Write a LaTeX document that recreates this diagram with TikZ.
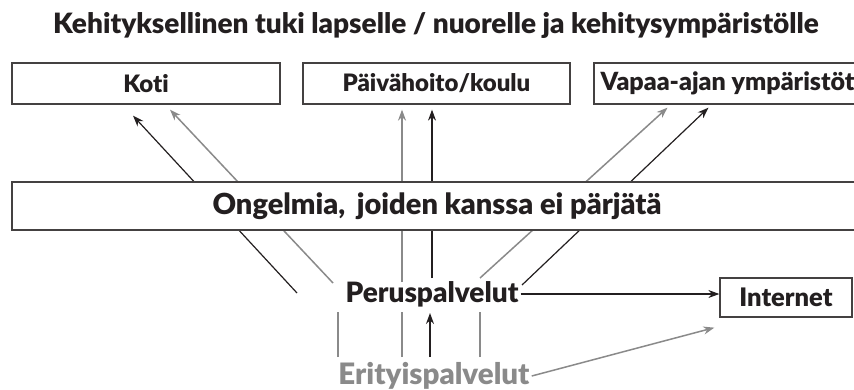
\documentclass[tikz,border=0pt]{standalone}
\usepackage{fontspec}
\setmainfont{Lato}[BoldFont={Lato Black}, Ligatures=NoCommon]
\usetikzlibrary{arrows.meta}
\usetikzlibrary{calc}
\definecolor{muste}{RGB}{35,31,32}
\definecolor{harmaa}{RGB}{138,138,138}
\colorlet{kehys}{muste!85}

\begin{document}
\begin{tikzpicture}[x=1pt, y=-1pt,
    laatikko/.style={draw=kehys, line width=1.3pt, fill=white, text=muste, inner sep=0pt,
        minimum height=41pt, font=\bfseries\fontsize{24}{28}\selectfont},
    teksti/.style={text=muste, inner sep=2pt, font=\bfseries\fontsize{28}{32}\selectfont},
    musta/.style={muste, line width=1.2pt, -{Stealth[length=11pt,width=8pt]}},
    harmaa viiva/.style={harmaa, line width=1.5pt},
    harmaa nuoli/.style={harmaa viiva, -{Stealth[length=11pt,width=8pt]}}]

    \useasboundingbox (0,0) rectangle (854,389);

    \node[teksti] (otsikko) at (436,25) {Kehityksellinen tuki lapselle / nuorelle ja kehitysympäristölle};

    \node[laatikko, minimum width=268pt] (koti) at (146,83.5) {Koti};
    \node[laatikko, minimum width=267pt] (paivahoito) at (436.5,83.5) {Päivähoito/koulu};
    \node[laatikko, minimum width=267pt, font=\bfseries\fontsize{25}{28}\selectfont] (vapaa) at (727.5,83.5) {Vapaa-ajan ympäristöt};

    \node[teksti] (perus) at (432,294) {Peruspalvelut};
    \node[teksti, text=harmaa, font=\bfseries\fontsize{29.5}{32}\selectfont] (erityis) at (434,376) {Erityispalvelut};
    \node[laatikko, minimum width=132pt, minimum height=39pt, font=\bfseries\fontsize{25.5}{28}\selectfont] (internet) at (786,297.5) {Internet};

    % lower ends of the lines above Peruspalvelut
    \coordinate (pk) at (297,293);
    \coordinate (ek) at (333,283);
    \coordinate (ep) at (402,282);
    \coordinate (pp) at (432,278);
    \coordinate (ev) at (480,278);
    \coordinate (pv) at (522,285);

    \draw[musta] (pk) -- ($(koti.south)+(-13,11)$);
    \draw[harmaa nuoli] (ek) -- ($(koti.south)+(24,5)$);
    \draw[harmaa nuoli] (ep) -- ($(ep |- paivahoito.south)+(0,5)$);
    \draw[musta] (pp) -- ($(pp |- paivahoito.south)+(0,5)$);
    \draw[harmaa nuoli] (ev) -- ($(vapaa.south)+(-60,3)$);
    \draw[musta] (pv) -- ($(vapaa.south)+(-19,3)$);

    \node[laatikko, minimum width=850pt, minimum height=48pt, font=\bfseries\fontsize{29}{32}\selectfont] (ongelmia) at (437,206) {Ongelmia,\, joiden kanssa ei pärjätä};

    % Erityispalvelut -> Peruspalvelut
    \draw[harmaa viiva] (338,357) -- (338,312);
    \draw[harmaa viiva] (402,357) -- (402,312);
    \draw[harmaa viiva] (480,357) -- (480,312);
    \draw[musta] (430,357) -- (430,313);

    \draw[musta] (perus.east) -- (perus.east -| internet.west);
    \draw[harmaa nuoli] (erityis.east) -- ($(internet.south west)+(-5,10)$);

\end{tikzpicture}
\end{document}
